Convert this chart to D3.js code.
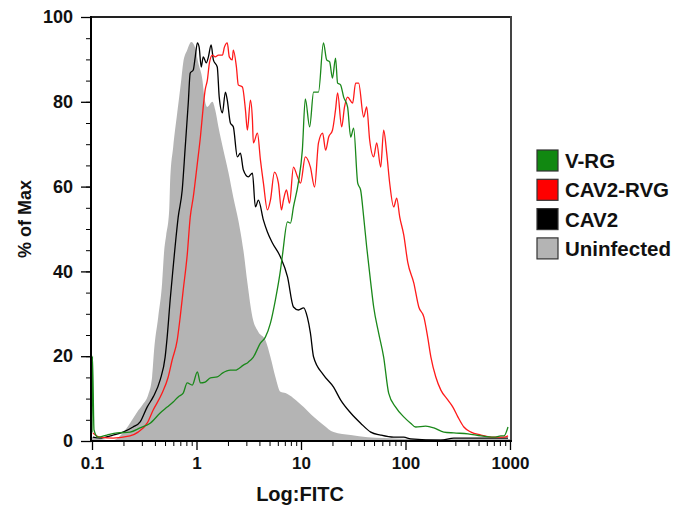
<!DOCTYPE html>
<html lang="en">
  <head>
    <meta charset="utf-8">
    <title>FITC histogram</title>
    <style>
      body { margin: 0; background: #fff; }
      svg text { font-family: "Liberation Sans", Arial, Helvetica, sans-serif; font-weight: bold; fill: #111; }
      .curve { fill: none; stroke-width: 1.3px; stroke-linejoin: round; }
    </style>
  </head>
  <body>
    <svg id="chart" width="692" height="507"></svg>

    <script src="https://cdn.jsdelivr.net/npm/d3@7"></script>
    <script>

      // ---- data: [Log:FITC, % of Max] ----
      var uninfected = [
        [0.1, 1.0], [0.102, 0.9], [0.119, 0.5], [0.159, 0.2], [0.194, 1.7], [0.231, 4.2],
        [0.270, 6.8], [0.308, 8.7], [0.344, 10.8], [0.376, 15.1], [0.393, 21.5], [0.430, 29.2],
        [0.469, 37.3], [0.491, 45.0], [0.513, 48.6], [0.548, 54.5], [0.560, 61.6], [0.598, 69.3],
        [0.654, 77.4], [0.714, 85.1], [0.746, 89.2], [0.815, 92.2], [0.891, 94.1], [0.973, 92.7],
        [1.04, 89.2], [1.14, 85.1], [1.19, 81.1], [1.27, 78.8], [1.42, 80.0], [1.51, 78.1],
        [1.62, 74.1], [1.81, 68.6], [2.02, 63.4], [2.25, 57.5], [2.51, 52.1], [2.81, 45.0],
        [3.07, 37.3], [3.43, 29.2], [3.91, 25.7], [4.56, 23.8], [5.10, 19.8], [5.69, 15.1],
        [6.36, 11.6], [7.10, 11.3], [8.47, 10.1], [10.6, 8.0], [13.2, 5.7], [16.4, 3.8],
        [20.5, 2.1], [29.9, 1.4], [43.4, 0.9], [61.8, 0.7], [140, 0.5], [1000, 0.5]
      ];

      var cav2 = [
        [0.102, 0.9], [0.119, 0.7], [0.159, 1.4], [0.198, 2.1], [0.247, 3.3], [0.289, 4.5],
        [0.337, 8.0], [0.385, 10.4], [0.449, 14.4], [0.501, 19.8], [0.524, 24.5], [0.560, 33.3],
        [0.598, 41.0], [0.625, 46.0], [0.668, 52.8], [0.730, 59.2], [0.780, 69.3], [0.834, 79.7],
        [0.871, 86.8], [0.931, 87.5], [0.973, 90.6], [1.02, 93.9], [1.06, 92.9], [1.11, 88.2],
        [1.16, 90.6], [1.24, 89.2], [1.30, 90.6], [1.38, 93.4], [1.45, 89.9], [1.58, 88.2],
        [1.65, 81.1], [1.77, 77.4], [1.89, 82.3], [1.97, 80.4], [2.11, 75.0], [2.25, 74.1],
        [2.46, 67.0], [2.63, 67.9], [2.81, 63.9], [3.13, 62.3], [3.43, 63.2], [3.66, 55.2],
        [3.91, 56.8], [4.37, 52.1], [4.77, 49.3], [5.33, 46.7], [6.36, 43.4], [7.43, 38.7],
        [8.47, 31.6], [9.46, 30.9], [10.6, 31.4], [11.5, 29.2], [12.3, 25.5], [13.2, 19.8],
        [16.4, 15.6], [20.5, 12.7], [23.9, 9.7], [29.9, 6.6], [37.2, 4.2], [46.5, 2.1],
        [57.9, 1.4], [77.1, 0.9], [96.2, 0.9], [112, 0.5], [218, 0.2], [290, 0.7], [957, 0.7]
      ];

      var cav2Rvg = [
        [0.102, 1.9], [0.119, 0.9], [0.159, 0.7], [0.231, 1.2], [0.276, 2.1], [0.337, 4.2],
        [0.385, 7.3], [0.469, 11.3], [0.536, 15.1], [0.585, 19.1], [0.654, 23.8], [0.698, 29.2],
        [0.746, 35.6], [0.815, 43.9], [0.871, 52.8], [0.931, 57.5], [1.02, 65.6], [1.09, 71.7],
        [1.16, 78.8], [1.21, 82.8], [1.27, 85.1], [1.33, 89.2], [1.42, 91.0], [1.51, 90.6],
        [1.62, 91.0], [1.77, 91.0], [1.85, 92.9], [1.97, 93.9], [2.06, 90.6], [2.20, 89.9],
        [2.25, 92.2], [2.41, 88.2], [2.51, 84.0], [2.75, 83.5], [2.94, 78.1], [3.07, 73.3],
        [3.28, 80.4], [3.43, 75.7], [3.50, 70.3], [3.83, 72.6], [4.09, 66.3], [4.37, 60.8],
        [4.77, 54.5], [5.10, 56.8], [5.57, 63.4], [6.08, 60.8], [6.50, 54.5], [6.79, 56.8],
        [7.26, 59.2], [7.76, 56.1], [8.47, 64.6], [9.25, 62.3], [9.89, 60.8], [11.0, 67.0],
        [12.3, 64.6], [13.5, 59.9], [14.7, 70.3], [16.1, 72.6], [17.2, 68.6], [18.4, 71.7],
        [20.0, 73.3], [21.4, 78.1], [22.4, 82.1], [24.5, 74.1], [26.1, 78.8], [27.9, 81.1],
        [31.2, 79.7], [33.3, 84.4], [35.6, 84.4], [39.8, 76.4], [42.5, 78.8], [45.4, 71.0],
        [49.6, 67.0], [53.0, 70.3], [57.9, 64.6], [61.8, 73.3], [66.1, 67.9], [70.6, 60.8],
        [77.1, 55.2], [82.4, 57.3], [88.1, 52.8], [96.2, 48.6], [105, 42.2], [120, 37.3],
        [134, 31.6], [150, 29.2], [163, 24.5], [175, 19.8], [195, 15.1], [218, 12.0],
        [254, 9.7], [284, 8.0], [317, 5.7], [362, 3.3], [423, 2.1], [527, 1.4], [658, 0.9],
        [876, 0.9], [957, 1.2]
      ];

      var vrg = [
        [0.1, 2.0], [0.101, 20.0], [0.1045, 2.6], [0.114, 0.9], [0.139, 1.4], [0.174, 1.9],
        [0.231, 2.1], [0.289, 3.1], [0.360, 4.2], [0.449, 6.6], [0.524, 8.0], [0.598, 9.2],
        [0.668, 10.4], [0.746, 11.3], [0.815, 13.7], [0.911, 13.2], [1.02, 16.3], [1.09, 13.7],
        [1.21, 13.9], [1.36, 14.9], [1.58, 15.1], [1.77, 16.0], [2.11, 16.7], [2.35, 16.7],
        [2.81, 17.9], [3.13, 18.6], [3.50, 19.8], [4.09, 23.1], [4.56, 24.5], [5.10, 27.8],
        [5.69, 33.3], [6.36, 40.3], [6.65, 43.9], [7.43, 51.7], [7.93, 51.4], [8.47, 55.2],
        [9.46, 61.1], [10.3, 68.6], [11.0, 80.7], [12.1, 74.1], [13.2, 82.3], [14.7, 82.3],
        [16.4, 93.9], [17.6, 89.9], [18.8, 89.4], [20.0, 85.6], [21.4, 90.3], [22.4, 84.4],
        [23.9, 84.0], [25.6, 81.1], [27.9, 78.8], [29.9, 71.7], [31.9, 73.8], [34.9, 60.8],
        [37.2, 59.2], [39.8, 52.8], [42.5, 45.8], [46.5, 37.3], [49.6, 31.6], [55.3, 25.5],
        [61.8, 19.8], [69.0, 11.3], [80.5, 8.0], [96.2, 5.7], [112, 4.2], [125, 3.3],
        [156, 3.5], [187, 3.1], [233, 2.1], [290, 1.9], [396, 1.7], [527, 1.2], [703, 0.9],
        [820, 1.2], [876, 1.2], [957, 3.3]
      ];

      var xTicks = [0.1, 1, 10, 100, 1000];
      var yTicks = [0, 20, 40, 60, 80, 100];

      var legendNames = ["V-RG", "CAV2-RVG", "CAV2", "Uninfected"];
      var legendColors = ["#118811", "#ff0000", "#000000", "#b4b4b4"];

      // ---- layout ----
      var margin = {top: 17, right: 182, bottom: 66, left: 91},
          plotW = 692 - margin.left - margin.right,
          plotH = 507 - margin.top - margin.bottom;

      var svg = d3.select("#chart");
      var g = svg.append("g")
          .attr("transform", "translate(" + margin.left + "," + margin.top + ")");

      var x = d3.scaleLog().domain([0.1, 1000]).range([1, plotW]);
      var y = d3.scaleLinear().domain([0, 100]).range([plotH, 0]);

      // gray filled histogram
      var area = d3.area()
          .x(function(d) { return x(d[0]); })
          .y0(y(0))
          .y1(function(d) { return y(d[1]); })
          .curve(d3.curveMonotoneX);

      g.append("path")
          .datum(uninfected)
          .attr("fill", "#b4b4b4")
          .attr("d", area);

      var line = d3.line()
          .x(function(d) { return x(d[0]); })
          .y(function(d) { return y(d[1]); })
          .curve(d3.curveMonotoneX);

      [[cav2, "#000000"], [cav2Rvg, "#ff1a1a"], [vrg, "#1a881a"]].forEach(function(s) {
        g.append("path")
            .datum(s[0])
            .attr("class", "curve")
            .attr("stroke", s[1])
            .attr("d", line);
      });

      // x axis: log decades, minor ticks without labels
      var minor = [];
      for (var dec = 0.1; dec < 1000; dec *= 10) {
        for (var k = 2; k <= 9; k++) minor.push(dec * k);
      }
      g.append("g")
          .attr("transform", "translate(0," + plotH + ")")
          .call(d3.axisBottom(x).tickValues(minor).tickSize(5).tickSizeOuter(0).tickFormat(""));

      g.append("g")
          .attr("transform", "translate(0," + plotH + ")")
          .call(d3.axisBottom(x).tickValues(xTicks).tickSize(9).tickSizeOuter(0).tickPadding(7)
              .tickFormat(function(d) { return d; }))
          .call(function(s) {
            s.selectAll(".tick line").attr("stroke-width", 1.3);
            s.selectAll("text").style("font-size", "17px");
          });

      // y axis, minor ticks every 5
      g.append("g")
          .call(d3.axisLeft(y).tickValues(d3.range(5, 100, 5)).tickSize(5).tickSizeOuter(0).tickFormat(""));

      g.append("g")
          .call(d3.axisLeft(y).tickValues(yTicks).tickSize(10).tickSizeOuter(0).tickPadding(8))
          .call(function(s) {
            s.selectAll(".tick line").attr("stroke-width", 1.3);
            s.selectAll("text").style("font-size", "18px");
          });

      // frame as filled bars: top, right, left, bottom
      var bars = [
        {x: -1, y: -1, w: plotW + 3, h: 2, c: "#222"},
        {x: plotW, y: -1, w: 2, h: plotH + 2, c: "#444"},
        {x: -1, y: -1, w: 2, h: plotH + 2, c: "#000"},
        {x: -1, y: plotH - 1, w: plotW + 3, h: 2, c: "#000"}
      ];
      g.selectAll(".frame").data(bars).enter().append("rect")
          .attr("class", "frame")
          .attr("x", function(d) { return d.x; })
          .attr("y", function(d) { return d.y; })
          .attr("width", function(d) { return d.w; })
          .attr("height", function(d) { return d.h; })
          .attr("fill", function(d) { return d.c; });

      // axis titles
      svg.append("text")
          .attr("x", margin.left + x(10) - 1)
          .attr("y", 501)
          .attr("text-anchor", "middle")
          .style("font-size", "20px")
          .text("Log:FITC");

      svg.append("text")
          .attr("transform", "translate(31,219) rotate(-90)")
          .attr("text-anchor", "middle")
          .style("font-size", "18px")
          .text("% of Max");

      // legend
      var legend = svg.append("g").attr("transform", "translate(537,150)");
      var rows = legend.selectAll("g").data(legendNames).enter().append("g")
          .attr("transform", function(d, i) { return "translate(0," + (i * 29.3) + ")"; });
      rows.append("rect")
          .attr("width", 21).attr("height", 21)
          .attr("fill", function(d, i) { return legendColors[i]; })
          .attr("stroke", "#333").attr("stroke-width", 1.2);
      rows.append("text")
          .attr("x", 28).attr("y", 18)
          .style("font-size", "20.5px")
          .text(function(d) { return d; });

    </script>
  </body>
</html>
